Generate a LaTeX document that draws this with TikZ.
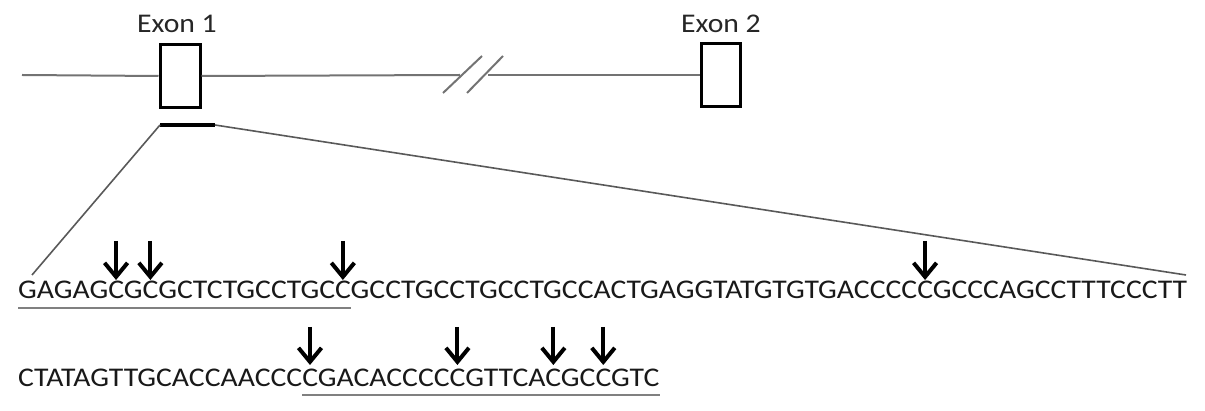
\documentclass[tikz,border=0pt]{standalone}
\usepackage{fontspec}
\setmainfont{Carlito}
\newfontfamily\seqfam{Carlito}[FakeStretch=1.1]
\usetikzlibrary{arrows.meta,calc}
\newcommand{\seqfont}{\seqfam\fontsize{27}{32}\selectfont}
\newlength{\cwA}\newlength{\cwB}\newlength{\cwC}\newlength{\cwD}
\newlength{\cwE}\newlength{\cwF}\newlength{\cwG}\newlength{\cwH}
\newlength{\cwUa}\newlength{\cwUb}\newlength{\cwChar}
\AtBeginDocument{%
  \settowidth{\cwChar}{\seqfont C}%
  \settowidth{\cwA}{\seqfont GAGAG}%
  \settowidth{\cwB}{\seqfont GAGAGCG}%
  \settowidth{\cwC}{\seqfont GAGAGCGCGCTCTGCCTGC}%
  \settowidth{\cwD}{\seqfont GAGAGCGCGCTCTGCCTGCCGCCTGCCTGCCTGCCACTGAGGTATGTGTGACCCC}%
  \settowidth{\cwE}{\seqfont CTATAGTTGCACCAACCC}%
  \settowidth{\cwF}{\seqfont CTATAGTTGCACCAACCCCGACACCCC}%
  \settowidth{\cwG}{\seqfont CTATAGTTGCACCAACCCCGACACCCCCGTTCA}%
  \settowidth{\cwH}{\seqfont CTATAGTTGCACCAACCCCGACACCCCCGTTCACGC}%
  \settowidth{\cwUa}{\seqfont GAGAGCGCGCTCTGCCTGCC}%
  \settowidth{\cwUb}{\seqfont CTATAGTTGCACCAACCC}%
}
\tikzset{
  gene/.style={draw=black!55, line width=2pt},
  exonbox/.style={draw=black, line width=3pt, fill=white, inner sep=0pt},
  zoomline/.style={draw=black!65, line width=1.6pt},
  regionbar/.style={draw=black, line width=4pt},
  uline/.style={draw=black!50, line width=2pt},
  cut/.style={draw=black, line width=4pt, -{Straight Barb[length=14pt,width=23pt,line width=4pt]}},
  seq/.style={inner sep=0pt, anchor=base west, text=black!90, font=\seqfont},
  lbl/.style={inner sep=0pt, anchor=base, text=black!85, font=\seqfont}
}
\begin{document}
\begin{tikzpicture}[x=1pt,y=-1pt]
\useasboundingbox (0,0) rectangle (1205,411);
% gene line
\coordinate (g0) at (22,75);
\coordinate (b1) at (460,75);
\coordinate (b2) at (488,75);
\node[exonbox, minimum width=40pt, minimum height=63pt] (e1) at (180,76) {};
\node[exonbox, minimum width=39pt, minimum height=63pt] (e2) at (721,75) {};
\draw[gene] (g0) -- (e1.west);
\draw[gene] (e1.east) -- (b1);
\draw[gene] (b2) -- (e2.west);
\coordinate (s1a) at (443,93); \coordinate (s1b) at (482,56);
\coordinate (s2a) at (467,93); \coordinate (s2b) at (503,56);
\draw[gene] (s1a) -- (s1b);
\draw[gene] (s2a) -- (s2b);
\node[lbl] (l1) at (177,33) {Exon 1};
\node[lbl] (l2) at (721,33) {Exon 2};
% region bar
\coordinate (r1) at (160,125);
\coordinate (r2) at (215,125);
\draw[regionbar] (r1) -- (r2);
% sequences
\node[seq] (q1) at (18,299) {GAGAGCGCGCTCTGCCTGCCGCCTGCCTGCCTGCCACTGAGGTATGTGTGACCCCCGCCCAGCCTTTCCCTT};
\node[seq] (q2) at (18,387) {CTATAGTTGCACCAACCCCGACACCCCCGTTCACGCCGTC};
\coordinate (z1) at (32,275);
\coordinate (z2) at (1186,275);
\draw[zoomline] (r1) -- (z1);
\draw[zoomline] (r2) -- (z2);
% underlines
\coordinate (u1a) at ($(q1.base west)+(0,9)$);
\coordinate (u1b) at ($(q1.base west)+(\cwUa,9)$);
\coordinate (u2a) at ($(q2.base west)+(\cwUb,8)$);
\coordinate (u2b) at ($(q2.base east)+(0,8)$);
\draw[uline] (u1a) -- (u1b);
\draw[uline] (u2a) -- (u2b);
% cut-site arrows
\foreach \n/\q/\w in {ca/q1/\cwA, cb/q1/\cwB, cc/q1/\cwC, cd/q1/\cwD}{
  \coordinate (\n t) at ($(\q.base west)+(\w+0.5\cwChar,-58)$);
  \coordinate (\n h) at ($(\q.base west)+(\w+0.5\cwChar,-19)$);
  \draw[cut] (\n t) -- (\n h);
}
\foreach \n/\q/\w in {ce/q2/\cwE, cf/q2/\cwF, cg/q2/\cwG, ch/q2/\cwH}{
  \coordinate (\n t) at ($(\q.base west)+(\w+0.5\cwChar,-60)$);
  \coordinate (\n h) at ($(\q.base west)+(\w+0.5\cwChar,-22)$);
  \draw[cut] (\n t) -- (\n h);
}
\end{tikzpicture}
\end{document}
